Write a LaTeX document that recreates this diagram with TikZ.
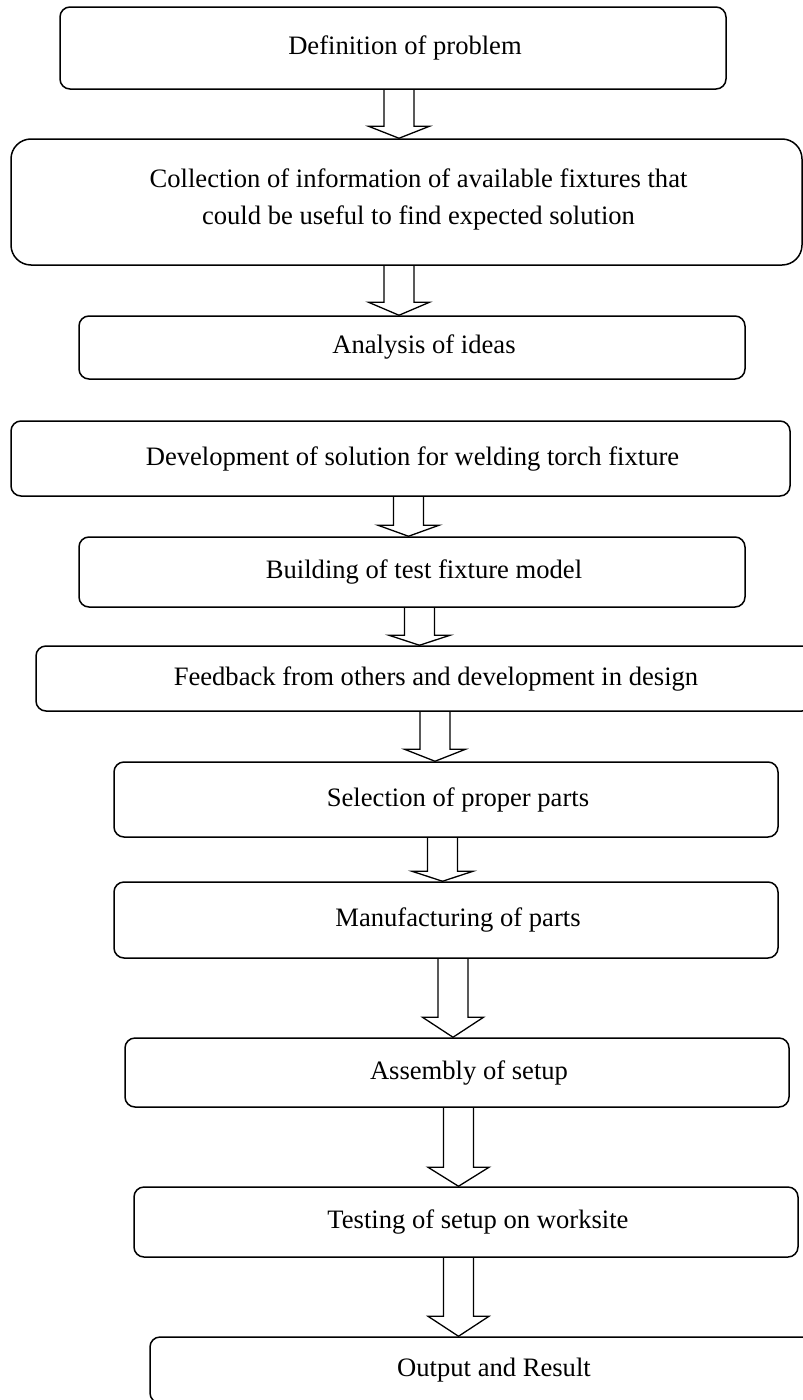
\documentclass[tikz,border=0pt]{standalone}
\usepackage{fontspec}
\setmainfont{Liberation Serif}
\usetikzlibrary{calc}

% hollow block arrow from the bottom of one box to the top of the next
% #1 source node, #2 target node, #3 centre x, #4 head length
\newcommand\drawflowarrow[4]{%
  \draw[flow] let \p1=(#1.south), \p2=(#2.north) in
    ({(#3-15)*1pt},\y1) -- ({(#3-15)*1pt},{\y2+#4*1pt})
    -- ({(#3-30.5)*1pt},{\y2+#4*1pt}) -- ({#3*1pt},\y2)
    -- ({(#3+30.5)*1pt},{\y2+#4*1pt}) -- ({(#3+15)*1pt},{\y2+#4*1pt})
    -- ({(#3+15)*1pt},\y1);}

\begin{document}
\begin{tikzpicture}[x=1pt,y=-1pt,
  stepbox/.style={draw, line width=1.5pt, rounded corners=10pt, inner sep=0pt},
  lbl/.style={font=\fontsize{26.6}{37}\selectfont, align=center, inner sep=0pt},
  flow/.style={draw, line width=1.3pt, line join=miter}]
\useasboundingbox (0,0) rectangle (803,1400);
\clip (0,0) rectangle (803,1400);

% process boxes
\node[stepbox, minimum width=666pt, minimum height=82pt] (b1) at (393,48) {};
\node[stepbox, rounded corners=20pt, minimum width=791pt, minimum height=126pt] (b2) at (406.5,202) {};
\node[stepbox, minimum width=666pt, minimum height=63pt] (b3) at (412,347.5) {};
\node[stepbox, minimum width=779pt, minimum height=75pt] (b4) at (400.5,458.5) {};
\node[stepbox, minimum width=666pt, minimum height=70pt] (b5) at (412,572) {};
\node[stepbox, minimum width=776pt, minimum height=65pt] (b6) at (424,678.5) {};
\node[stepbox, minimum width=664pt, minimum height=75pt] (b7) at (446,799.5) {};
\node[stepbox, minimum width=664pt, minimum height=76pt] (b8) at (446,920) {};
\node[stepbox, minimum width=664pt, minimum height=69pt] (b9) at (457,1072.5) {};
\node[stepbox, minimum width=664pt, minimum height=70pt] (b10) at (466,1222) {};
\node[stepbox, minimum width=664pt, minimum height=66pt] (b11) at (482,1370) {};

% box texts
\node[lbl] (t1) at ([xshift=12pt]b1.center) {Definition of problem};
\node[lbl] (t2) at ([xshift=12pt,yshift=3pt]b2.center) {Collection of information of available fixtures that\\could be useful to find expected solution};
\node[lbl] (t3) at ([xshift=12pt]b3.center) {Analysis of ideas};
\node[lbl] (t4) at ([xshift=12pt]b4.center) {Development of solution for welding torch fixture};
\node[lbl] (t5) at ([xshift=12pt]b5.center) {Building of test fixture model};
\node[lbl] (t6) at ([xshift=12pt]b6.center) {Feedback from others and development in design};
\node[lbl] (t7) at ([xshift=12pt]b7.center) {Selection of proper parts};
\node[lbl] (t8) at ([xshift=12pt]b8.center) {Manufacturing of parts};
\node[lbl] (t9) at ([xshift=12pt]b9.center) {Assembly of setup};
\node[lbl] (t10) at ([xshift=12pt]b10.center) {Testing of setup on worksite};
\node[lbl] (t11) at ([xshift=12pt]b11.center) {Output and Result};

% block arrows
\drawflowarrow{b1}{b2}{399}{12}
\drawflowarrow{b2}{b3}{399}{13}
\drawflowarrow{b4}{b5}{408.5}{11}
\drawflowarrow{b5}{b6}{419.5}{10}
\drawflowarrow{b6}{b7}{435}{12}
\drawflowarrow{b7}{b8}{442.5}{10}
\drawflowarrow{b8}{b9}{453}{20}
\drawflowarrow{b9}{b10}{458.5}{19}
\drawflowarrow{b10}{b11}{458.5}{20}
\end{tikzpicture}
\end{document}
